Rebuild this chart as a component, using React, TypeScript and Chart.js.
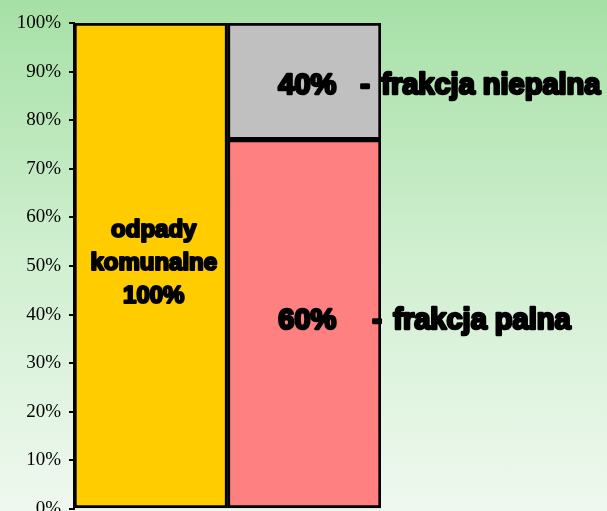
import React, { useEffect, useRef } from "react";
import { Chart, registerables } from "chart.js";

Chart.register(...registerables);

const categories = ["odpady komunalne", "frakcje"];
const yellowValues = [100, null];
const pinkValues = [null, 76];
const grayValues = [null, 24];
const tickValues = [0, 10, 20, 30, 40, 50, 60, 70, 80, 90, 100];
const barLabelLines = ["odpady", "komunalne", "100%"];
const topLabel = { pct: "40%", text: "frakcja niepalna", yValue: 85.4 };
const bottomLabel = { pct: "60%", text: "frakcja palna", yValue: 37 };

const labelPlugin = {
  id: "labelPlugin",
  afterDatasetsDraw(chart: any) {
    const ctx = chart.ctx;
    const y = chart.scales.y;
    const x = chart.scales.x;
    ctx.save();
    ctx.fillStyle = "#000";
    ctx.strokeStyle = "#000";
    ctx.lineJoin = "round";
    ctx.textBaseline = "alphabetic";
    const draw = (t: string, px: number, py: number, align: CanvasTextAlign) => {
      ctx.textAlign = align;
      ctx.strokeText(t, px, py);
      ctx.fillText(t, px, py);
    };
    ctx.font = "bold 24px 'Liberation Sans', Arial, sans-serif";
    ctx.lineWidth = 2.2;
    const cx0 = x.getPixelForValue(0) + 3;
    const baseY = y.getPixelForValue(56);
    barLabelLines.forEach((l, i) => draw(l, cx0, baseY + i * 33, "center"));

    ctx.font = "bold 29px 'Liberation Sans', Arial, sans-serif";
    ctx.lineWidth = 2.6;
    const bx = x.getPixelForValue(1);
    const ty = y.getPixelForValue(topLabel.yValue);
    draw(topLabel.pct, bx - 26, ty, "left");
    draw("-", bx + 56, ty, "left");
    draw(topLabel.text, bx + 77, ty, "left");
    const by = y.getPixelForValue(bottomLabel.yValue);
    draw(bottomLabel.pct, bx - 26, by, "left");
    draw("-", bx + 68, by, "left");
    draw(bottomLabel.text, bx + 89, by, "left");
    ctx.restore();
  },
};

export default function App() {
  const ref = useRef<HTMLCanvasElement>(null);
  useEffect(() => {
    document.body.style.margin = "0";
    const chart = new Chart(ref.current!, {
      type: "bar",
      data: {
        labels: categories,
        datasets: [
          { data: yellowValues as any, backgroundColor: "#FFCC00", borderColor: "#000", borderWidth: 3, borderSkipped: false },
          { data: pinkValues as any, backgroundColor: "#FF8080", borderColor: "#000", borderWidth: 3, borderSkipped: false },
          { data: grayValues as any, backgroundColor: "#C0C0C0", borderColor: "#000", borderWidth: 3, borderSkipped: false },
        ],
      },
      options: {
        animation: false,
        responsive: false,
        maintainAspectRatio: false,
        layout: { padding: { top: 23, right: 226, bottom: 31, left: 0 } },
        plugins: { legend: { display: false }, tooltip: { enabled: false } },
        datasets: { bar: { barPercentage: 1, categoryPercentage: 1 } },
        scales: {
          x: { stacked: true, display: false },
          y: {
            stacked: true,
            min: 0,
            max: 100,
            afterFit: (s: any) => { s.width = 74; },
            afterBuildTicks: (s: any) => { s.ticks = tickValues.map((v) => ({ value: v })); },
            border: { display: true, color: "#000", width: 2 },
            grid: { drawOnChartArea: false, drawTicks: true, tickLength: 5, color: "#000", lineWidth: 2 },
            ticks: {
              padding: 8,
              color: "#000",
              font: { family: "'Liberation Serif', 'Times New Roman', serif", size: 19 },
              callback: (v: any) => v + "%",
            },
          },
        },
      },
      plugins: [labelPlugin],
    });
    return () => chart.destroy();
  }, []);
  return (
    <div style={{ width: 607, height: 511, overflow: "hidden", background: "linear-gradient(to bottom, #A6E0A6 0%, #D0EFD0 50%, #EFF8EF 100%)" }}>
      <canvas ref={ref} width={607} height={540} style={{ display: "block" }} />
    </div>
  );
}
